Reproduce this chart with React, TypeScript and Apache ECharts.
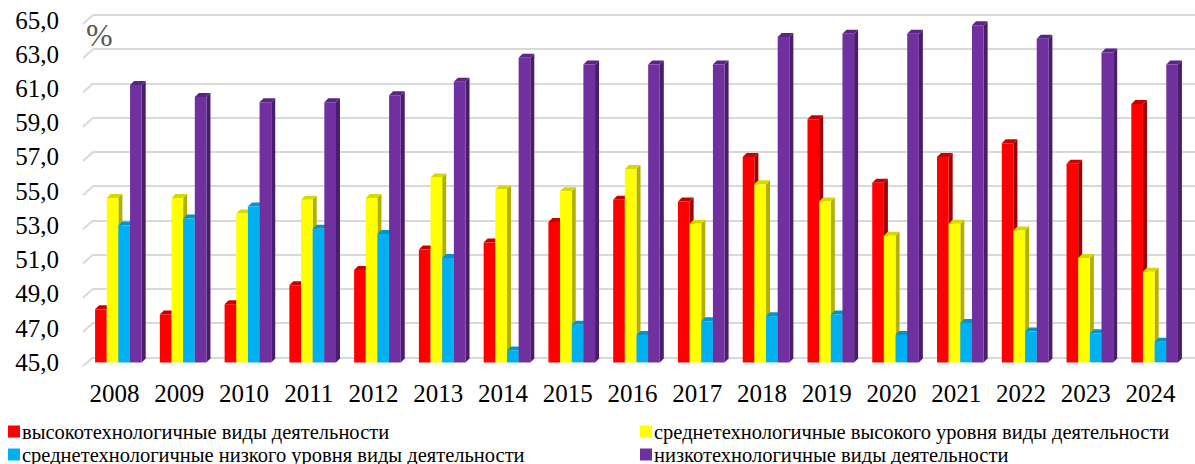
import React, { useEffect, useRef } from "react";
import * as echarts from "echarts";

const years = ["2008","2009","2010","2011","2012","2013","2014","2015","2016","2017","2018","2019","2020","2021","2022","2023","2024"];
const seriesNames = [
  "высокотехнологичные виды деятельности",
  "среднетехнологичные высокого уровня виды деятельности",
  "среднетехнологичные низкого уровня виды деятельности",
  "низкотехнологичные виды деятельности",
];
const highTech = [48.1,47.8,48.4,49.5,50.4,51.6,52.0,53.2,54.5,54.4,57.0,59.2,55.5,57.0,57.8,56.6,60.1];
const midHighTech = [54.6,54.6,53.7,54.5,54.6,55.8,55.1,55.0,56.3,53.1,55.4,54.4,52.4,53.1,52.7,51.1,50.3];
const midLowTech = [53.0,53.4,54.1,52.8,52.5,51.1,45.7,47.2,46.6,47.4,47.7,47.8,46.6,47.3,46.8,46.7,46.2];
const lowTech = [61.2,60.5,60.2,60.2,60.6,61.4,62.8,62.4,62.4,62.4,64.0,64.2,64.2,64.7,63.9,63.1,62.4];
const yTicks = [45,47,49,51,53,55,57,59,61,63,65];

const allValues = [highTech, midHighTech, midLowTech, lowTech];
const palette = [
  { front: "#ff0000", side: "#a00000", top: "#c80000" },
  { front: "#ffff00", side: "#b0b000", top: "#d8d800" },
  { front: "#00b0f0", side: "#0080b0", top: "#0095cc" },
  { front: "#7030a0", side: "#4a1d6c", top: "#5b2585" },
];
const FONT = "'Liberation Serif', 'Times New Roman', serif";

export default function App() {
  const ref = useRef<HTMLDivElement>(null);
  useEffect(() => {
    const chart = echarts.init(ref.current!, undefined, { renderer: "svg" });
    const barSeries = allValues.map((vals, k) => ({
      type: "custom",
      name: seriesNames[k],
      xAxisIndex: 0,
      yAxisIndex: 0,
      itemStyle: { color: palette[k].front },
      encode: { x: 0, y: 1 },
      data: vals.map((v, i) => [i, v]),
      renderItem: (params: any, api: any) => {
        const ci = api.value(0);
        const v = api.value(1);
        const top = api.coord([ci, v]);
        const base = api.coord([ci, 45]);
        const band = api.size([1, 0])[0];
        const w = band * 0.18;
        const d = 4;
        const x0 = top[0] - 2 * w + k * w - 2;
        const c = palette[k];
        return {
          type: "group",
          children: [
            {
              type: "polygon",
              shape: { points: [[x0 + w, top[1]], [x0 + w + d, top[1] - d], [x0 + w + d, base[1] - d], [x0 + w, base[1]]] },
              style: { fill: c.side },
            },
            {
              type: "polygon",
              shape: { points: [[x0, top[1]], [x0 + d, top[1] - d], [x0 + w + d, top[1] - d], [x0 + w, top[1]]] },
              style: { fill: c.top },
            },
            {
              type: "rect",
              shape: { x: x0, y: top[1], width: w, height: base[1] - top[1] },
              style: { fill: c.front },
            },
          ],
        };
      },
    }));
    const wallSeries = {
      type: "custom",
      xAxisIndex: 1,
      yAxisIndex: 1,
      silent: true,
      data: yTicks.map((t) => [0, t]),
      renderItem: (params: any, api: any) => {
        const p = api.coord([0, api.value(1)]);
        return {
          type: "line",
          shape: { x1: p[0] - 10, y1: p[1] + 9, x2: p[0], y2: p[1] },
          style: { stroke: "#d9d9d9", lineWidth: 2 },
        };
      },
    };
    const legendBase = {
      orient: "vertical",
      top: 421,
      height: 80,
      padding: 0,
      itemGap: 2,
      itemWidth: 12,
      itemHeight: 12,
      icon: "rect",
      selectedMode: false,
      textStyle: { fontSize: 20.5, lineHeight: 20, fontFamily: FONT, color: "#000", padding: [0, 0, 0, -3] },
    };
    chart.setOption({
      animation: false,
      grid: [
        { left: 88, right: 6, top: 20, bottom: 101.6 },
        { left: 93, right: 0, top: 15, bottom: 106.7 },
      ],
      xAxis: [
        {
          type: "category",
          gridIndex: 0,
          data: years,
          axisLine: { show: false },
          axisTick: { show: false },
          axisLabel: { interval: 0, color: "#000", fontSize: 25, fontFamily: FONT, margin: 19, padding: [0, 12, 0, 0] },
        },
        { type: "value", gridIndex: 1, min: 0, max: 1, show: false },
      ],
      yAxis: [
        {
          type: "value",
          gridIndex: 0,
          min: 45,
          max: 65,
          interval: 2,
          splitLine: { show: false },
          axisLine: { show: false },
          axisTick: { show: false },
          axisLabel: {
            color: "#000",
            fontSize: 25,
            fontFamily: FONT,
            margin: 29,
            formatter: (v: number) => v.toFixed(1).replace(".", ","),
          },
        },
        {
          type: "value",
          gridIndex: 1,
          min: 45,
          max: 65,
          interval: 2,
          axisLine: { show: false },
          axisTick: { show: false },
          axisLabel: { show: false },
          splitLine: { show: true, lineStyle: { color: "#d9d9d9", width: 2 } },
        },
      ],
      legend: [
        { ...legendBase, data: [seriesNames[0], seriesNames[2]], left: 8 },
        { ...legendBase, data: [seriesNames[1], seriesNames[3]], left: 640 },
      ],
      graphic: [
        {
          type: "text",
          left: 86,
          top: 19,
          style: { text: "%", fontSize: 32, fontFamily: FONT, fill: "#595959" },
        },
      ],
      series: [wallSeries, ...barSeries],
    });
    return () => chart.dispose();
  }, []);
  return <div ref={ref} style={{ width: 1195, height: 464, position: "absolute", left: 0, top: 0 }} />;
}
